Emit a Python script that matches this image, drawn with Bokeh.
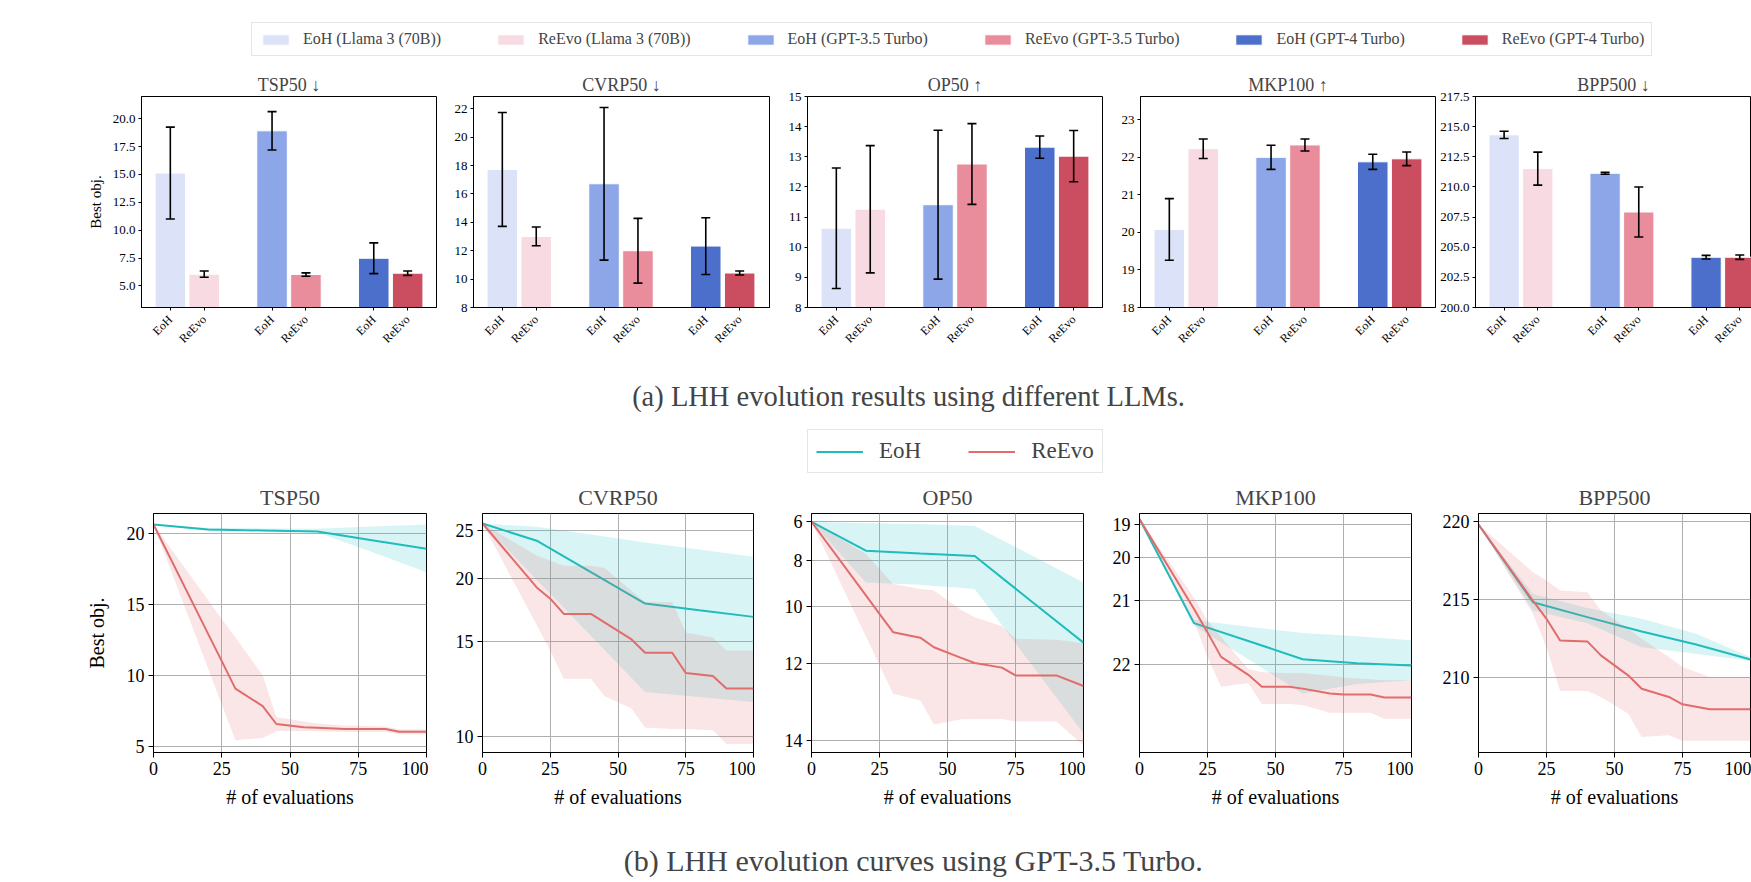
import math
import numpy as np
from bokeh.plotting import figure
from bokeh.layouts import row, column
from bokeh.models import (ColumnDataSource, Range1d, FixedTicker, SingleIntervalTicker,
                          PrintfTickFormatter, CustomJSTickFormatter, CustomJSTransform,
                          Whisker, TeeHead, Legend, LegendItem, Label)
from bokeh.transform import transform
from bokeh.embed import file_html
from bokeh.resources import INLINE

FONT = "Liberation Serif"

# ---------------- data: (a) bar charts ----------------
LLMS = ["Llama 3 (70B)", "GPT-3.5 Turbo", "GPT-4 Turbo"]
METHODS = ["EoH", "ReEvo"]
EOH_COLORS = ["#dce2f7", "#8ca6e8", "#4b6fcb"]
REEVO_COLORS = ["#f8dae2", "#e98c9c", "#cb4d60"]

TSP50_EOH = [15.13, 18.92, 7.48]
TSP50_EOH_ERR = [4.12, 1.72, 1.38]
TSP50_REEVO = [6.05, 6.02, 6.14]
TSP50_REEVO_ERR = [0.28, 0.15, 0.20]

CVRP50_EOH = [17.73, 16.72, 12.33]
CVRP50_EOH_ERR = [4.01, 5.38, 2.00]
CVRP50_REEVO = [13.01, 12.00, 10.43]
CVRP50_REEVO_ERR = [0.66, 2.28, 0.14]

OP50_EOH = [10.63, 11.41, 13.32]
OP50_EOH_ERR = [2.00, 2.47, 0.37]
OP50_REEVO = [11.26, 12.76, 13.02]
OP50_REEVO_ERR = [2.11, 1.34, 0.85]

MKP100_EOH = [20.08, 22.00, 21.88]
MKP100_EOH_ERR = [0.82, 0.32, 0.20]
MKP100_REEVO = [22.23, 22.33, 21.96]
MKP100_REEVO_ERR = [0.26, 0.16, 0.18]

BPP500_EOH = [214.32, 211.13, 204.17]
BPP500_EOH_ERR = [0.30, 0.08, 0.15]
BPP500_REEVO = [211.52, 207.92, 204.17]
BPP500_REEVO_ERR = [1.37, 2.07, 0.18]

# ---------------- data: (b) evolution curves ----------------
EOH_X = [0, 20, 40, 60, 80, 100]
REEVO_X = [0, 20, 25, 30, 40, 45, 55, 60, 70, 75, 85, 90, 100]

TSP_EOH_MEAN = [20.63, 20.28, 20.21, 20.14, 19.53, 18.92]
TSP_EOH_LO = [20.63, 20.20, 20.15, 20.08, 18.70, 17.26]
TSP_EOH_HI = [20.63, 20.38, 20.36, 20.34, 20.50, 20.63]
TSP_REEVO_MEAN = [20.63, 12.92, 11.00, 9.06, 7.83, 6.57, 6.34, 6.30, 6.22, 6.22, 6.22, 6.03, 6.03]
TSP_REEVO_LO = [20.63, 10.49, 7.95, 5.42, 5.58, 6.08, 6.08, 6.05, 6.00, 6.00, 6.00, 5.85, 5.85]
TSP_REEVO_HI = [20.63, 15.30, 13.98, 12.66, 10.00, 7.06, 6.75, 6.60, 6.45, 6.45, 6.40, 6.20, 6.20]

CVRP_EOH_MEAN = [25.9, 23.87, 20.6, 17.83, 17.29, 16.78]
CVRP_EOH_LO = [25.9, 19.9, 15.41, 12.04, 11.79, 11.54]
CVRP_EOH_HI = [25.9, 25.5, 24.58, 23.68, 22.9, 22.15]
CVRP_REEVO_MEAN = [25.9, 19.2, 18.23, 17.01, 17.01, 16.37, 15.16, 14.29, 14.29, 13.07, 12.9, 12.22, 12.22]
CVRP_REEVO_LO = [25.9, 16.17, 14.43, 12.75, 12.75, 11.84, 11.22, 10.36, 10.3, 10.3, 10.25, 9.68, 9.68]
CVRP_REEVO_HI = [25.9, 22.25, 21.74, 21.24, 21.24, 21.0, 18.9, 17.93, 17.93, 15.64, 15.3, 14.43, 14.43]

OP_EOH_MEAN = [6.0, 7.54, 7.68, 7.8, 9.74, 11.33]
OP_EOH_LO = [6.0, 6.08, 6.12, 6.23, 7.71, 9.02]
OP_EOH_HI = [6.0, 9.02, 9.12, 9.3, 11.93, 13.84]
OP_REEVO_MEAN = [6.0, 9.57, 10.3, 10.97, 11.16, 11.48, 11.82, 11.98, 12.12, 12.35, 12.35, 12.35, 12.65]
OP_REEVO_LO = [6.0, 7.71, 8.42, 9.09, 9.3, 9.37, 10.15, 10.43, 10.76, 11.2, 11.22, 11.23, 11.35]
OP_REEVO_HI = [6.0, 11.12, 12.04, 12.86, 13.04, 13.63, 13.51, 13.5, 13.5, 13.56, 13.56, 13.56, 14.1]

MKP_EOH_MEAN = [18.81, 21.40, 21.68, 21.93, 21.98, 22.01]
MKP_EOH_LO = [18.81, 21.35, 21.46, 21.56, 21.61, 21.67]
MKP_EOH_HI = [18.81, 21.44, 21.93, 22.32, 22.22, 22.18]
MKP_REEVO_MEAN = [18.81, 21.15, 21.55, 21.90, 22.12, 22.25, 22.25, 22.27, 22.32, 22.33, 22.33, 22.36, 22.36]
MKP_REEVO_LO = [18.81, 20.93, 21.36, 21.62, 22.05, 22.09, 22.10, 22.10, 22.13, 22.15, 22.17, 22.18, 22.18]
MKP_REEVO_HI = [18.81, 21.36, 21.90, 22.25, 22.21, 22.42, 22.42, 22.43, 22.50, 22.50, 22.50, 22.55, 22.55]

BPP_EOH_MEAN = [219.8, 214.81, 213.85, 212.93, 212.09, 211.13]
BPP_EOH_LO = [219.8, 214.27, 213.46, 211.92, 211.5, 211.03]
BPP_EOH_HI = [219.8, 215.34, 214.44, 213.74, 212.78, 211.28]
BPP_REEVO_MEAN = [219.8, 214.91, 213.74, 212.35, 212.29, 211.39, 210.11, 209.25, 208.72, 208.25, 207.93, 207.93, 207.93]
BPP_REEVO_LO = [219.8, 214.06, 211.92, 209.1, 209.1, 208.72, 207.65, 206.15, 206.26, 205.9, 205.9, 205.9, 205.9]
BPP_REEVO_HI = [219.8, 216.73, 216.2, 215.56, 215.45, 214.27, 213.1, 212.46, 211.28, 210.64, 210.0, 210.0, 210.0]

EVAL_TICKS = [0, 25, 50, 75, 100]
EOH_LINE = "#1fbcbc"
REEVO_LINE = "#e06c6c"

BAR_TITLES = ["TSP50 \u2193", "CVRP50 \u2193", "OP50 \u2191", "MKP100 \u2191", "BPP500 \u2193"]
CURVE_TITLES = ["TSP50", "CVRP50", "OP50", "MKP100", "BPP500"]
CAPTION_A = "(a) LHH evolution results using different LLMs."
CAPTION_B = "(b) LHH evolution curves using GPT-3.5 Turbo."

PAGE_W = 1751


def style_axes(p, tick_size, label_size):
    for ax in p.axis:
        ax.major_label_text_font = FONT
        ax.major_label_text_font_size = tick_size
        ax.major_label_text_color = "black"
        ax.axis_label_text_font = FONT
        ax.axis_label_text_font_size = label_size
        ax.axis_label_text_font_style = "normal"
        ax.axis_label_text_color = "black"
        ax.axis_line_color = "black"
        ax.major_tick_line_color = "black"
        ax.minor_tick_line_color = None
        ax.major_tick_in = 0
    p.outline_line_color = "black"
    p.outline_line_width = 1
    p.outline_line_alpha = 1


def set_title(p, text, size, standoff):
    p.title.text = text
    p.title.align = "center"
    p.title.text_font = FONT
    p.title.text_font_size = size
    p.title.text_font_style = "normal"
    p.title.standoff = standoff


PX_PER_GROUP = 295 / 2.9


def bar_panel(title, eoh, eoh_err, reevo, reevo_err, ylim, interval, fmt, left, frame_w, right, ylabel=None):
    x0 = -0.45
    x1 = x0 + frame_w / PX_PER_GROUP
    p = figure(width=left + frame_w + right, height=306, x_range=Range1d(x0, x1), y_range=Range1d(*ylim),
               output_backend="svg", toolbar_location=None,
               min_border_left=left, min_border_right=right, min_border_top=30, min_border_bottom=65)
    set_title(p, title, "18px", 3)
    ticks = []
    for k, (means, errs, colors) in enumerate([(eoh, eoh_err, EOH_COLORS), (reevo, reevo_err, REEVO_COLORS)]):
        off = (k - 0.5) / 3.0
        m = np.array(means, float)
        e = np.array(errs, float)
        xs = np.arange(len(LLMS)) + off
        ticks += list(xs)
        src = ColumnDataSource(dict(x=xs, top=m, upper=m + e, lower=m - e, color=colors))
        p.vbar(x="x", top="top", width=0.3, fill_color="color", line_color="white", line_width=1, source=src)
        p.add_layout(Whisker(source=src, base="x", upper="upper", lower="lower", level="overlay",
                             line_color="black", line_width=1.6,
                             upper_head=TeeHead(size=9, line_color="black", line_width=1.6),
                             lower_head=TeeHead(size=9, line_color="black", line_width=1.6)))
    p.xaxis.ticker = FixedTicker(ticks=sorted(ticks))
    p.xaxis.formatter = CustomJSTickFormatter(args=dict(names=METHODS),
                                              code="const f = tick - Math.round(tick); return f < 0 ? names[0] : names[1];")
    p.xaxis.major_label_orientation = math.pi / 4
    p.yaxis.ticker = SingleIntervalTicker(interval=interval)
    p.yaxis.formatter = PrintfTickFormatter(format=fmt)
    p.grid.visible = False
    style_axes(p, "13px", "15px")
    p.xaxis.major_label_text_font_size = "12px"
    for ax in p.axis:
        ax.major_tick_out = 3
        ax.major_label_standoff = 2
    p.xaxis.major_label_standoff = 7
    if ylabel:
        p.yaxis.axis_label = ylabel
        p.yaxis.axis_label_standoff = 6
    return p


def curve_panel(title, eoh, reevo, ylim, yticks, a, s, log, left, frame_w, right, ylabel=None):
    lo, hi = sorted([a + s * ylim[0], a + s * ylim[1]])
    p = figure(width=left + frame_w + right, height=362, x_range=Range1d(0, 100), y_range=Range1d(lo, hi),
               y_axis_type="log" if log else "linear",
               output_backend="svg", toolbar_location=None,
               min_border_left=left, min_border_right=right, min_border_top=39, min_border_bottom=84)
    set_title(p, title, "22px", 8)
    tr = CustomJSTransform(args=dict(a=a, s=s), v_func="return xs.map(v => a + s * v)")
    for xs, (mean, blo, bhi), color in [(EOH_X, eoh, EOH_LINE), (REEVO_X, reevo, REEVO_LINE)]:
        src = ColumnDataSource(dict(x=xs, mean=mean, lo=blo, hi=bhi))
        p.varea(x="x", y1=transform("lo", tr), y2=transform("hi", tr), source=src, fill_color=color, fill_alpha=0.17)
        p.line(x="x", y=transform("mean", tr), source=src, line_color=color, line_width=2)
    p.xaxis.ticker = FixedTicker(ticks=EVAL_TICKS)
    p.yaxis.ticker = FixedTicker(ticks=[a + s * t for t in yticks])
    p.yaxis.formatter = CustomJSTickFormatter(args=dict(a=a, s=s), code="return ((tick - a) / s).toFixed(0);")
    p.grid.grid_line_color = "#b0b0b0"
    p.grid.grid_line_width = 1
    p.grid.grid_line_alpha = 1
    p.xaxis.axis_label = "# of evaluations"
    style_axes(p, "18px", "20px")
    for ax in p.axis:
        ax.major_tick_out = 5
        ax.major_label_standoff = 4
    p.xaxis.axis_label_standoff = 8
    if ylabel:
        p.yaxis.axis_label = ylabel
        p.yaxis.axis_label_standoff = 16
    return p


# ---------------- top row ----------------
top_specs = [
    (BAR_TITLES[0], TSP50_EOH, TSP50_EOH_ERR, TSP50_REEVO, TSP50_REEVO_ERR, (3.06, 22.0), 2.5, "%.1f", 141, 295, 2, "Best obj."),
    (BAR_TITLES[1], CVRP50_EOH, CVRP50_EOH_ERR, CVRP50_REEVO, CVRP50_REEVO_ERR, (8.0, 22.87), 2, "%d", 35, 296, 2, None),
    (BAR_TITLES[2], OP50_EOH, OP50_EOH_ERR, OP50_REEVO, OP50_REEVO_ERR, (8.0, 15.0), 1, "%d", 36, 295, 2, None),
    (BAR_TITLES[3], MKP100_EOH, MKP100_EOH_ERR, MKP100_REEVO, MKP100_REEVO_ERR, (18.0, 23.62), 1, "%d", 36, 295, 2, None),
    (BAR_TITLES[4], BPP500_EOH, BPP500_EOH_ERR, BPP500_REEVO, BPP500_REEVO_ERR, (200.0, 217.5), 2.5, "%.1f", 36, 278, 0, None),
]
top_row = row([bar_panel(*s) for s in top_specs])

# ---------------- bottom row ----------------
bot_specs = [
    (CURVE_TITLES[0], (TSP_EOH_MEAN, TSP_EOH_LO, TSP_EOH_HI), (TSP_REEVO_MEAN, TSP_REEVO_LO, TSP_REEVO_HI),
     (4.56, 21.41), [5, 10, 15, 20], 0.0, 1, False, 153, 273, 2, "Best obj."),
    (CURVE_TITLES[1], (CVRP_EOH_MEAN, CVRP_EOH_LO, CVRP_EOH_HI), (CVRP_REEVO_MEAN, CVRP_REEVO_LO, CVRP_REEVO_HI),
     (9.355, 27.16), [10, 15, 20, 25], -2.0, 1, True, 54, 271, 2, None),
    (CURVE_TITLES[2], (OP_EOH_MEAN, OP_EOH_LO, OP_EOH_HI), (OP_REEVO_MEAN, OP_REEVO_LO, OP_REEVO_HI),
     (5.52, 14.25), [6, 8, 10, 12, 14], 19.0, -1, True, 56, 272, 2, None),
    (CURVE_TITLES[3], (MKP_EOH_MEAN, MKP_EOH_LO, MKP_EOH_HI), (MKP_REEVO_MEAN, MKP_REEVO_LO, MKP_REEVO_HI),
     (18.61, 22.8), [19, 20, 21, 22], 23.7, -1, True, 54, 272, 2, None),
    (CURVE_TITLES[4], (BPP_EOH_MEAN, BPP_EOH_LO, BPP_EOH_HI), (BPP_REEVO_MEAN, BPP_REEVO_LO, BPP_REEVO_HI),
     (205.15, 220.51), [210, 215, 220], 0.0, 1, False, 65, 272, 1, None),
]
bot_row = row([curve_panel(*s) for s in bot_specs])


def blank(height):
    # canvas for legends / captions; its data range is kept away from the legend renderers' data
    p = figure(width=PAGE_W, height=height, x_range=Range1d(-20, -10), y_range=Range1d(-20, -10),
               output_backend="svg", toolbar_location=None, x_axis_location=None, y_axis_location=None,
               min_border=0)
    p.grid.visible = False
    p.outline_line_color = None
    return p


# header: legend of the bar charts (renderers sit outside the visible range)
hdr = blank(66)
items = []
for j, llm in enumerate(LLMS):
    for name, cols, vals in [("EoH", EOH_COLORS, TSP50_EOH), ("ReEvo", REEVO_COLORS, TSP50_REEVO)]:
        r = hdr.vbar(x=[j], top=[vals[j]], width=0.3, fill_color=cols[j], line_color="white")
        items.append(LegendItem(label=f"{name} ({llm})", renderers=[r]))
leg_a = Legend(items=items, orientation="horizontal", location=(251, 10),
               label_text_font=FONT, label_text_font_size="16px", glyph_width=33, glyph_height=13,
               label_height=16, label_standoff=11, spacing=53, padding=7,
               border_line_color="#cccccc", border_line_width=1)
hdr.add_layout(leg_a)

# middle: caption (a) and legend of the curves
mid = blank(102)
mid.add_layout(Label(x=908, y=78, x_units="screen", y_units="screen", text=CAPTION_A, text_font=FONT,
                     text_font_size="28.5px", text_align="center", text_baseline="middle"))
r1 = mid.line(x=EOH_X, y=TSP_EOH_MEAN, line_color=EOH_LINE, line_width=2)
r2 = mid.line(x=REEVO_X, y=TSP_REEVO_MEAN, line_color=REEVO_LINE, line_width=2)
leg_b = Legend(items=[LegendItem(label=METHODS[0], renderers=[r1]), LegendItem(label=METHODS[1], renderers=[r2])],
               orientation="horizontal", location=(807, 1),
               label_text_font=FONT, label_text_font_size="23px", glyph_width=47, glyph_height=23,
               label_height=23, label_standoff=16, spacing=47, padding=8,
               border_line_color="#cccccc", border_line_width=1)
mid.add_layout(leg_b)

# footer: caption (b)
ftr = blank(46)
ftr.add_layout(Label(x=913, y=22, x_units="screen", y_units="screen", text=CAPTION_B, text_font=FONT,
                     text_font_size="30px", text_align="center", text_baseline="middle"))

layout = column([hdr, top_row, mid, bot_row, ftr])
open("out.html", "w").write(file_html(layout, INLINE))
